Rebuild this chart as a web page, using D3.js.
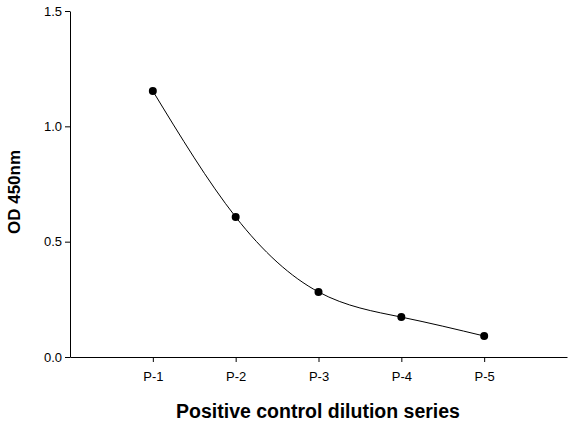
<!DOCTYPE html><html><head><script src="https://d3js.org/d3.v7.min.js"></script>
<style>body{margin:0;background:#fff}</style></head><body><svg width="576" height="424"></svg><script>
const categories=["P-1","P-2","P-3","P-4","P-5"];
const values=[1.153,0.607,0.282,0.173,0.091];
const yTicks=[0,0.5,1.0,1.5];
const svg=d3.select("svg");
const L=70,R=567,T=11,B=357;
const x=d3.scaleLinear().domain([0,6]).range([L,R]);
const y=d3.scaleLinear().domain([0,1.5]).range([B,T]);
const font="Liberation Sans, Arial, sans-serif";
const xa=svg.append("g").attr("transform",`translate(0,${B})`)
 .call(d3.axisBottom(x).tickValues([1,2,3,4,5]).tickFormat(d=>categories[d-1]).tickSize(5).tickSizeOuter(0));
const ya=svg.append("g").attr("transform",`translate(${L},0)`)
 .call(d3.axisLeft(y).tickValues(yTicks).tickFormat(d3.format(".1f")).tickSize(5).tickSizeOuter(0));
[xa,ya].forEach(a=>{a.selectAll("text").attr("font-family",font).attr("font-size",13).attr("fill","#000");a.selectAll("line,path").attr("stroke","#000");});
xa.selectAll("text").attr("dy","1.2em");
const pts=values.map((v,i)=>[x(i+1),y(v)]);
svg.append("path").attr("d",d3.line().curve(d3.curveNatural)(pts)).attr("fill","none").attr("stroke","#000").attr("stroke-width",1);
svg.selectAll("circle.p").data(values).join("circle").attr("cx",(d,i)=>x(i+1)).attr("cy",d=>y(d)).attr("r",4).attr("fill","#000");
svg.append("text").attr("x",318).attr("y",418).attr("text-anchor","middle").attr("font-family",font).attr("font-weight","bold").attr("font-size",19.5).text("Positive control dilution series");
svg.append("text").attr("transform",`translate(20,192) rotate(-90)`).attr("text-anchor","middle").attr("font-family",font).attr("font-weight","bold").attr("font-size",17).text("OD 450nm");
</script></body></html>
